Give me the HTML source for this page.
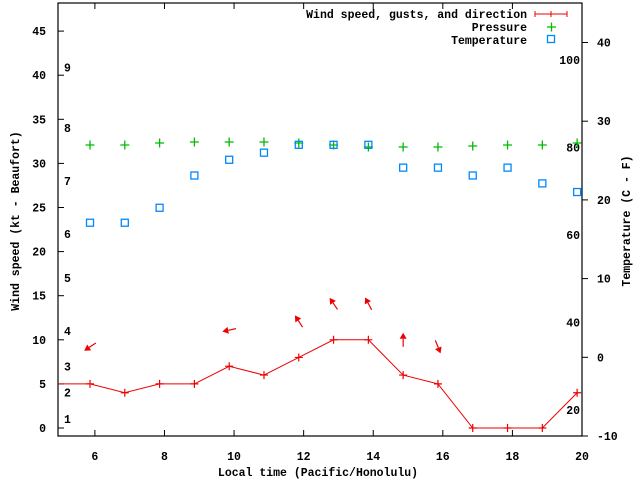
<!DOCTYPE html>
<html><head><meta charset="utf-8"><style>
html,body{margin:0;padding:0;background:#fff;}
svg{display:block;}
text{font-family:"Liberation Mono",monospace;font-size:11.5px;font-weight:bold;fill:#000;}
</style></head><body>
<svg id="chart" width="640" height="480" xmlns="http://www.w3.org/2000/svg">
<g id="axes"></g>
<g id="marks"></g>
<text x="318" y="476" text-anchor="middle">Local time (Pacific/Honolulu)</text>
<text transform="translate(19,221) rotate(-90)" text-anchor="middle">Wind speed (kt - Beaufort)</text>
<text transform="translate(630,221) rotate(-90)" text-anchor="middle">Temperature (C - F)</text>
<g>
<text x="527" y="18" text-anchor="end">Wind speed, gusts, and direction</text>
<path d="M535 14H567M535 11V17M567 11V17M551 11V17" stroke="#e00" stroke-width="1"/>
<text x="527" y="31" text-anchor="end">Pressure</text>
<path d="M547 27H556M551.5 22.5V31.5" stroke="#0b0" stroke-width="1.3"/>
<text x="527" y="44" text-anchor="end">Temperature</text>
<rect x="547.5" y="35.5" width="7" height="7" fill="none" stroke="#08f" stroke-width="1.3"/>
</g>
</svg>
<script>
const times = [5.86,6.86,7.86,8.86,9.86,10.86,11.86,12.86,13.86,14.86,15.86,16.86,17.86,18.86,19.86];
const wind = [5,4,5,5,7,6,8,10,10,6,5,0,0,0,4];
const gusts = [9.2,null,null,null,11.1,null,12.1,14.1,14.1,10.0,9.2,null,null,null,null];
const windDir = [56,null,null,null,78,null,147,146,152,180,338,null,null,null,null];
const pressure = [1029.1,1029.1,1029.3,1029.4,1029.4,1029.4,1029.3,1029.1,1028.9,1028.9,1028.9,1029.0,1029.1,1029.1,1029.3];
const tempC = [17.1,17.1,19.0,23.1,25.1,26.0,27.0,27.0,27.0,24.1,24.1,23.1,24.1,22.1,21.0];
const xTicks = [6,8,10,12,14,16,18,20];
const yTicks = [0,5,10,15,20,25,30,35,40,45];
const y2Ticks = [-10,0,10,20,30,40];
const fTicks = [20,40,60,80,100];
const bftLabels = ["1","2","3","4","5","6","7","8","9"];
const bftPos = [1,4,7,11,17,22,28,34,40.9];

const L=58,R=582,T=3,B=436;
const X=t=>L+(t-4.94)*(R-L)/(20-4.94);
const Y=v=>428-v*8.82;
const Y2=c=>436-(c+10)*7.87;
const YP=p=>436-(p-1000)*10;
const NS="http://www.w3.org/2000/svg";
const ax=document.getElementById('axes'), mk=document.getElementById('marks');
function el(tag,attrs,parent){const e=document.createElementNS(NS,tag);for(const k in attrs)e.setAttribute(k,attrs[k]);parent.appendChild(e);return e;}

let e=el('rect',{x:L,y:T,width:R-L,height:B-T,fill:'none',stroke:'#000','stroke-width':1.2},ax);


xTicks.forEach(t=>{
  const x=X(t);
  let p=el('path',{d:`M${x} ${B}V${B-6}M${x} ${T}V${T+6}`,stroke:'#000'},ax);
  
  
  let s=el('text',{x:x,y:B+24,'text-anchor':'middle'},ax);s.textContent=t;
  
  
});
yTicks.forEach(v=>{
  const y=Y(v);
  let p=el('path',{d:`M${L} ${y}H${L+6}`,stroke:'#000'},ax);
  
  
  let s=el('text',{x:46,y:y+4,'text-anchor':'end'},ax);s.textContent=v;
  
  
});
y2Ticks.forEach(c=>{
  const y=Y2(c);
  let p=el('path',{d:`M${R} ${y}H${R+6}`,stroke:'#000'},ax);
  
  
  let s=el('text',{x:597,y:y+4},ax);s.textContent=c;
  
  
});
fTicks.forEach(f=>{
  const y=Y2((f-32)*5/9);
  let s=el('text',{x:580,y:y+4,'text-anchor':'end'},ax);s.textContent=f;
  
  
});
bftLabels.forEach((b,i)=>{
  let s=el('text',{x:64,y:Y(bftPos[i])+4},ax);s.textContent=b;
  
  
});

// wind line
let d=`M${L} ${Y(wind[0])}`;
times.forEach((t,i)=>{d+=`L${X(t)} ${Y(wind[i])}`;});
let wl=el('path',{d:d,fill:'none',stroke:'#e00','stroke-width':1},mk);


times.forEach((t,i)=>{
  const x=X(t),y=Y(wind[i]);
  let p=el('path',{d:`M${x-4} ${y}H${x+4}M${x} ${y-4}V${y+4}`,stroke:'#e00','stroke-width':1.2},mk);
  
  
});
// arrows
times.forEach((t,i)=>{
  if(gusts[i]==null)return;
  const cx=X(t),cy=Y(gusts[i]),a=windDir[i]*Math.PI/180,Ln=14;
  const dx=-Math.sin(a)*Ln,dy=Math.cos(a)*Ln;
  const x1=cx-dx/2,y1=cy-dy/2,x2=cx+dx/2,y2=cy+dy/2;
  const ux=dx/Ln,uy=dy/Ln;
  const bx=x2-ux*6,by=y2-uy*6;
  let g=el('g',{},mk);
  
  
  el('line',{x1:x1,y1:y1,x2:bx,y2:by,stroke:'#e00','stroke-width':1.2},g);
  el('polygon',{points:`${x2},${y2} ${bx-uy*3.5},${by+ux*3.5} ${bx+uy*3.5},${by-ux*3.5}`,fill:'#e00'},g);
});
// pressure
times.forEach((t,i)=>{
  const x=X(t),y=YP(pressure[i]);
  let p=el('path',{d:`M${x-4.5} ${y}H${x+4.5}M${x} ${y-4.5}V${y+4.5}`,stroke:'#0b0','stroke-width':1.3},mk);
  
  
});
// temperature
times.forEach((t,i)=>{
  const x=X(t),y=Y2(tempC[i]);
  let r=el('rect',{x:x-3.5,y:y-3.5,width:7,height:7,fill:'none',stroke:'#08f','stroke-width':1.3},mk);
  
  
});
</script>
</body></html>
